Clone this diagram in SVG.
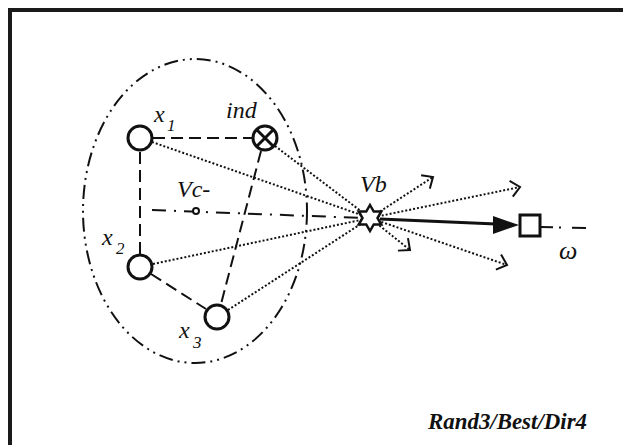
<svg xmlns="http://www.w3.org/2000/svg" width="623" height="445" viewBox="0 0 623 445">
  <style>
    text { font-family: "Liberation Serif", "Times New Roman", Times, serif; font-style: italic; fill: #111; }
    .node { fill: #fff; stroke: #111; stroke-width: 3; }
    .dash { fill: none; stroke: #111; stroke-width: 2; stroke-dasharray: 12 6; }
    .dot { fill: none; stroke: #111; stroke-width: 2; stroke-dasharray: 2 2; }
    .dotarrow { fill: none; stroke: #111; stroke-width: 2; stroke-dasharray: 2 2; marker-end: url(#open); }
  </style>
  <defs>
    <marker id="open" markerUnits="userSpaceOnUse" markerWidth="16" markerHeight="18" refX="12" refY="8" orient="auto" viewBox="0 0 16 16">
      <path d="M3,0 L12,8 L3,16" fill="none" stroke="#111" stroke-width="2"/>
    </marker>
  </defs>
  <rect x="0" y="0" width="623" height="445" fill="#fff"/>
  <path id="frame" d="M10,445 V10 H623" fill="none" stroke="#1a1a1a" stroke-width="4"/>

  <g id="region">
    <ellipse cx="195" cy="211" rx="112" ry="152" fill="none" stroke="#111" stroke-width="2" stroke-dasharray="14 5 2 5 2 5"/>
  </g>

  <g id="connectors">
    <path class="dash" d="M153,138 H252"/>
    <path class="dash" d="M140,152 V254"/>
    <path class="dash" d="M151,274 L206,309"/>
    <path class="dash" d="M261,151 L221,304"/>
    <path d="M152,210 L362,218" fill="none" stroke="#111" stroke-width="2" stroke-dasharray="14 8 2 8"/>
    <path class="dot" d="M152,142 L370,218"/>
    <path class="dot" d="M275,146 L370,218"/>
    <path class="dot" d="M153,264 L370,218"/>
    <path class="dot" d="M228,310 L370,218"/>
    <path class="dotarrow" d="M370,218 L433,177"/>
    <path class="dotarrow" d="M370,218 L520,187"/>
    <path class="dotarrow" d="M370,218 L410,250"/>
    <path class="dotarrow" d="M370,218 L507,265"/>
    <path d="M380,219 L496,224" fill="none" stroke="#111" stroke-width="3"/>
    <polygon points="519,225 493,216 493,234" fill="#111"/>
    <path d="M540,227 L586,228" fill="none" stroke="#111" stroke-width="2" stroke-dasharray="13 6 2 11 14"/>
  </g>

  <g id="x1">
    <circle class="node" cx="140" cy="138" r="12"/>
    <text x="154" y="122" font-family="Liberation Serif, serif" font-size="24">x</text>
    <text x="167" y="131" font-family="Liberation Serif, serif" font-size="17">1</text>
  </g>
  <g id="ind">
    <circle class="node" cx="265" cy="138" r="12"/>
    <path d="M256.5,129.5 L273.5,146.5 M273.5,129.5 L256.5,146.5" stroke="#111" stroke-width="3"/>
    <text x="226" y="118" font-family="Liberation Serif, serif" font-size="24">ind</text>
  </g>
  <g id="x2">
    <circle class="node" cx="140" cy="267" r="12"/>
    <text x="102" y="245" font-family="Liberation Serif, serif" font-size="24">x</text>
    <text x="116" y="254" font-family="Liberation Serif, serif" font-size="17">2</text>
  </g>
  <g id="x3">
    <circle class="node" cx="217" cy="317" r="12"/>
    <text x="179" y="338" font-family="Liberation Serif, serif" font-size="24">x</text>
    <text x="193" y="348" font-family="Liberation Serif, serif" font-size="17">3</text>
  </g>
  <g id="vc">
    <circle cx="196" cy="211" r="3" fill="#fff" stroke="#111" stroke-width="2"/>
    <text x="177" y="197" font-family="Liberation Serif, serif" font-size="24">Vc-</text>
  </g>
  <g id="vb">
    <path d="M370,205 L373.75,211.5 L381.26,211.5 L377.5,218 L381.26,224.5 L373.75,224.5 L370,231 L366.25,224.5 L358.74,224.5 L362.5,218 L358.74,211.5 L366.25,211.5 Z" fill="#fff" stroke="#111" stroke-width="2.5"/>
    <text x="360" y="192" font-family="Liberation Serif, serif" font-size="24">Vb</text>
  </g>
  <g id="omega">
    <rect class="node" x="520" y="215" width="20" height="21"/>
    <text x="559" y="259" font-family="Liberation Serif, serif" font-size="26">ω</text>
  </g>
  <g id="caption">
    <text x="428" y="429" font-family="Liberation Serif, serif" font-size="23" font-weight="bold" textLength="159" lengthAdjust="spacingAndGlyphs">Rand3/Best/Dir4</text>
  </g>
</svg>
